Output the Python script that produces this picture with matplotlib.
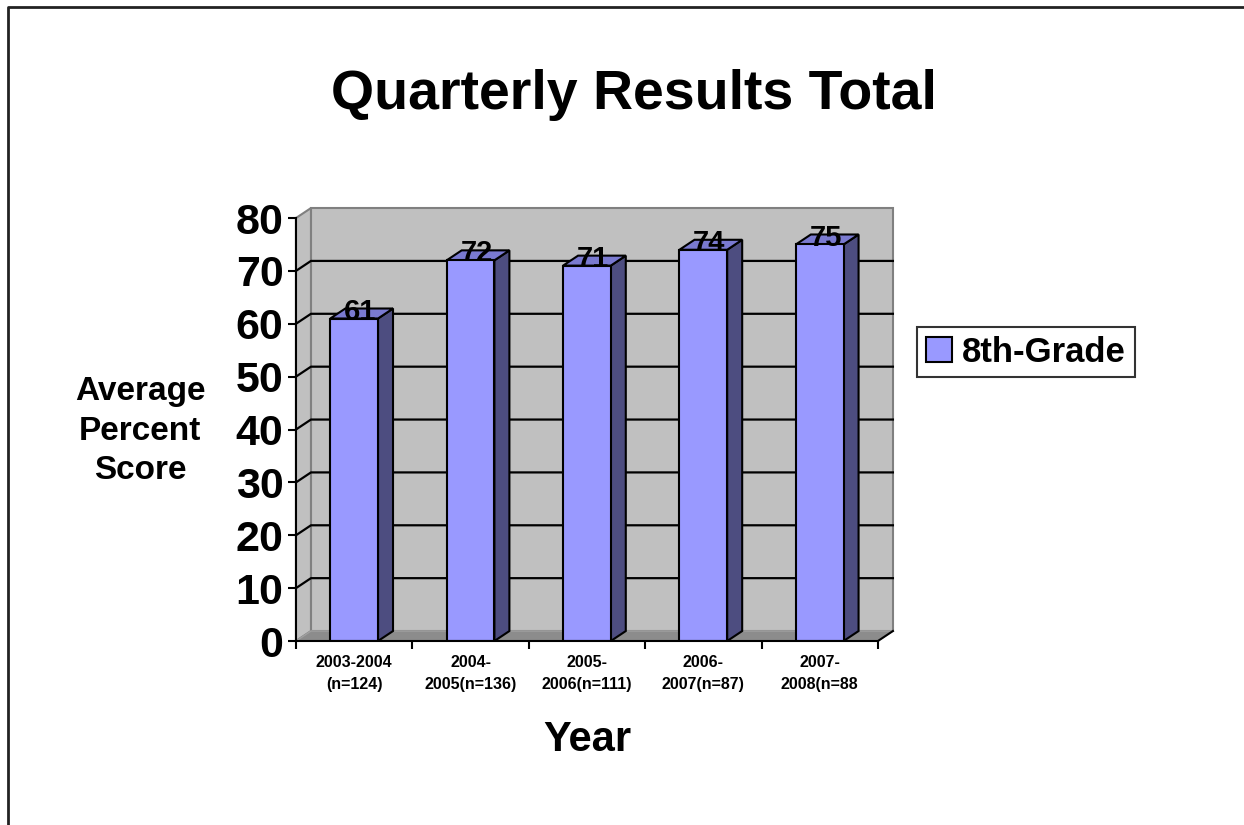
import matplotlib.pyplot as plt
from matplotlib.patches import Polygon
from matplotlib.lines import Line2D

plt.rcParams['font.family'] = ['Liberation Sans', 'DejaVu Sans']
plt.rcParams['font.weight'] = 'bold'

years = ["2003-2004\n(n=124)", "2004-\n2005(n=136)", "2005-\n2006(n=111)",
         "2006-\n2007(n=87)", "2007-\n2008(n=88"]
scores = [61, 72, 71, 74, 75]
series_name = "8th-Grade"
yticks = [0, 10, 20, 30, 40, 50, 60, 70, 80]

front = "#9999FF"
side = "#4D4D80"
top = "#7A7AD0"
wall = "#C0C0C0"
floor = "#8C8C8C"

# fake depth of the 3d box, in data units
dx, dy = 0.129, 1.89
n = len(scores)
ymax = yticks[-1]

fig = plt.figure(figsize=(12.44, 8.25), dpi=100)
ax = fig.add_axes([0.2379, 0.2230, 0.4678, 0.5127])
ax.set_xlim(0, n)
ax.set_ylim(0, ymax)
ax.patch.set_alpha(0)

# walls and floor
ax.add_patch(Polygon([(dx, dy), (n + dx, dy), (n + dx, ymax + dy), (dx, ymax + dy)],
                     closed=True, facecolor=wall, edgecolor="#808080", lw=1.5,
                     zorder=1, clip_on=False))
ax.add_patch(Polygon([(0, 0), (dx, dy), (dx, ymax + dy), (0, ymax)],
                     closed=True, facecolor=wall, edgecolor="#808080", lw=1.5,
                     zorder=1, clip_on=False))
ax.add_patch(Polygon([(0, 0), (n, 0), (n + dx, dy), (dx, dy)],
                     closed=True, facecolor=floor, edgecolor="#A0A0A0", lw=1,
                     zorder=1.5, clip_on=False))
ax.plot([n, n + dx], [0, dy], color="black", lw=1.5, zorder=2, clip_on=False)

# gridlines on the back wall
for v in yticks[1:-1]:
    ax.plot([0, dx, n + dx], [v, v + dy, v + dy], color="black", lw=1.6,
            zorder=2, clip_on=False)

# bars
w = 0.41
xs = [i + 0.5 for i in range(n)]
ax.bar(xs, scores, width=w, color=front, edgecolor="black", lw=1.5, zorder=4,
       label=series_name)
for x, v in zip(xs, scores):
    x0, x1 = x - w / 2, x + w / 2
    ax.add_patch(Polygon([(x1, 0), (x1 + dx, dy), (x1 + dx, v + dy), (x1, v)],
                         closed=True, facecolor=side, edgecolor="black", lw=1.5,
                         zorder=3, clip_on=False))
    ax.add_patch(Polygon([(x0, v), (x1, v), (x1 + dx, v + dy), (x0 + dx, v + dy)],
                         closed=True, facecolor=top, edgecolor="black", lw=1.5,
                         zorder=3, clip_on=False))
    ax.text(x + dx * 0.4, v - 0.2, str(v), ha="center", va="baseline",
            fontsize=21, fontweight="bold", zorder=5)

# axes
for s in ["top", "right"]:
    ax.spines[s].set_visible(False)
for s in ["left", "bottom"]:
    ax.spines[s].set_linewidth(1.5)
    ax.spines[s].set_zorder(6)
ax.set_yticks(yticks)
ax.set_yticklabels([str(t) for t in yticks], fontsize=31, fontweight="bold")
ax.tick_params(axis="y", length=6, width=1.5, pad=3)
ax.set_xticks(range(n + 1))
ax.set_xticklabels([])
ax.set_xticks(xs, minor=True)
ax.set_xticklabels(years, minor=True, fontsize=11.5, fontweight="bold",
                   linespacing=1.55)
ax.tick_params(axis="x", which="major", length=6, width=1.5)
ax.tick_params(axis="x", which="minor", length=0, pad=10)

fig.text(634 / 1244, 1 - 95 / 825, "Quarterly Results Total", ha="center",
         va="center", fontsize=40, fontweight="bold")
fig.text(140 / 1244, 1 - 431 / 825, "Average\nPercent\nScore", ha="center",
         va="center", fontsize=24, fontweight="bold", linespacing=1.35)
fig.text(587 / 1244, 1 - 740 / 825, "Year", ha="center", va="center",
         fontsize=30, fontweight="bold")

leg = fig.legend(loc="upper left", bbox_to_anchor=(917 / 1244, 1 - 327 / 825),
                 borderaxespad=0, fancybox=False, edgecolor="black",
                 prop={"size": 25, "weight": "bold"}, handlelength=0.75,
                 handleheight=0.75, handletextpad=0.3, borderpad=0.25)
leg.get_frame().set_linewidth(1.5)

# slide border (left and top only)
fig.add_artist(Line2D([8 / 1244, 8 / 1244, 1], [0, 1 - 7 / 825, 1 - 7 / 825],
                      transform=fig.transFigure, color="#222222", lw=2))

fig.savefig("out.png", dpi=100, facecolor="white")
